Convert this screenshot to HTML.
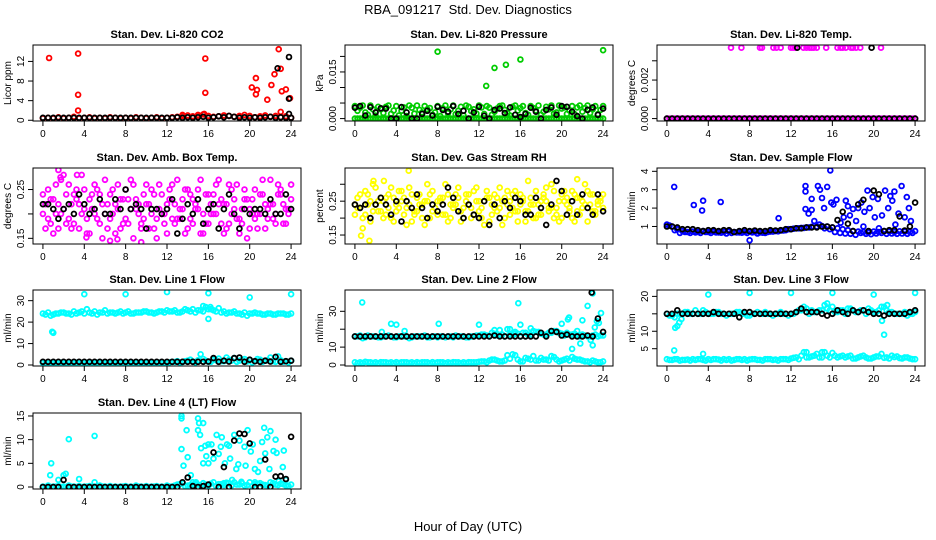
<!DOCTYPE html>
<html><head><meta charset="utf-8"><style>
html,body{margin:0;padding:0;background:#fff}
svg{display:block;font-family:"Liberation Sans",sans-serif}
</style></head><body>
<svg id="chart" width="936" height="540">
<text x="468" y="14" text-anchor="middle" font-size="13">RBA_091217&#160; Std. Dev. Diagnostics</text>
<text x="468" y="531" text-anchor="middle" font-size="13">Hour of Day (UTC)</text>
</svg>
<script>
// ---- data ----
const tA=[0,0.5,1,1.5,2,2.5,3,3.5,4,4.5,5,5.5,6,6.5,7,7.5,8,8.5,9,9.5,10,10.5,11,11.5,12,12.5,13,13.5,14,14.5,15,15.5,16,16.5,17,17.5,18,18.5,19,19.5,20,20.5,21,21.5,22,22.5,23,23.5,24];
const tB=[0.25,0.75,1.25,1.75,2.25,2.75,3.25,3.75,4.25,4.75,5.25,5.75,6.25,6.75,7.25,7.75,8.25,8.75,9.25,9.75,10.25,10.75,11.25,11.75,12.25,12.75,13.25,13.75,14.25,14.75,15.25,15.75,16.25,16.75,17.25,17.75,18.25,18.75,19.25,19.75,20.25,20.75,21.25,21.75,22.25,22.75,23.25,23.75];
const xTicks=[0,4,8,12,16,20,24];

// P1 CO2
const co2Red=[0.4,0.5,0.4,0.6,0.4,0.5,0.7,0.4,0.5,0.6,0.4,0.5,0.4,0.6,0.5,0.4,0.5,0.4,0.6,0.5,0.4,0.5,0.6,0.4,0.5,0.6,0.7,0.9,1.0,0.8,1.1,1.2,0.9,0.7,0.8,1.0,0.9,0.7,0.8,1.1,0.9,0.6,0.8,1.0,0.7,0.9,0.6,0.8,0.5];
const co2RedOutX=[0.6,3.4,3.4,3.4,15.7,15.7,15.6,20.2,20.6,20.6,20.7,21.7,22.1,22.4,22.8,23,23.1,23.5,23,23.9,13.5,15,19];
const co2RedOutY=[12.7,13.6,5.2,2,12.6,5.6,1.3,6.7,5.3,8.6,6.2,4.2,7.2,9.4,14.5,10.5,5.9,6.3,1.7,4.5,1.1,1.0,0.9];
const co2Black=[0.5,0.5,0.5,0.5,0.5,0.5,0.5,0.5,0.5,0.5,0.5,0.5,0.5,0.5,0.5,0.5,0.5,0.5,0.5,0.5,0.5,0.5,0.5,0.5,0.5,0.5,0.6,0.5,0.6,0.5,0.6,0.7,0.5,0.6,0.8,0.6,0.9,0.7,0.5,0.6,0.5,0.6,0.5,0.6,0.7,0.5,0.6,0.5,0.5];
const co2BlackOutX=[22.7,23.8,23.8,23.8];
const co2BlackOutY=[10.6,12.9,4.4,1.3];
const co2Ticks=[0,4,8,12];

// P2 Pressure
const presZeroA=tA.map(()=>0), presZeroB=tB.map(()=>0);
const presGA=[.004,.0035,.002,.0042,.001,.003,.0038,.0015,.004,.0025,.0008,.0035,.0042,.002,.003,.0012,.004,.0033,.0018,.0042,.0025,.001,.0038,.003,.0042,.0015,.0035,.0022,.004,.0028,.001,.0042,.0034,.0018,.004,.0026,.0012,.0038,.0042,.002,.0032,.0015,.004,.0036,.0022,.0042,.003,.0014,.004];
const presGB=[.0025,.0042,.0012,.003,.0038,.0018,.0042,.0026,.001,.0036,.0042,.0016,.0028,.004,.0034,.002,.0008,.0042,.003,.0014,.0038,.0042,.0024,.0016,.0036,.004,.0012,.0032,.0042,.0018,.0038,.0026,.004,.0012,.0034,.0042,.0022,.003,.0016,.0042,.0036,.0026,.0014,.0042,.0034,.0018,.004,.0028];
const presOutX=[8,12.7,13.5,14.6,16,24];
const presOutY=[0.0215,0.0105,0.0163,0.0173,0.019,0.022];
const presBlack=[.0035,.004,.001,.0037,.002,.0033,.0032,0,0,.0037,.002,0,0,.0015,.0025,.001,.0038,.0028,.0022,.004,.0015,.0025,0,.002,.0038,.0009,0,.0028,.0032,.0018,.0036,.0012,.0005,.0015,.0035,.0022,0,.0028,.0036,.0012,.004,.0038,.0022,.0008,0,.0028,.0036,.0012,.0032];
const presTicks=[0,0.005,0.010,0.015,0.020];
const presLabels=["0.000","","","0.015",""];

// P3 Temp
const tempOutX=[6.2,7.2,9,9.2,10.3,10.6,11,12,12.2,12.4,13.2,13.5,13.8,14,14.2,14.5,15.4,16.5,16.8,17,17.3,17.8,18,18.3,18.7,20.7];
const tempOutY=tempOutX.map(()=>0.00368);
const tempBlackOutX=[12.6,19.8];
const tempBlackOutY=[0.00368,0.00368];
const tempTicks=[0,0.001,0.002,0.003];
const tempLabels=["0.000","","0.002",""];

// P4 Amb box temp
const ambA1=[.24,.19,.23,.17,.21,.26,.18,.22,.25,.16,.2,.24,.27,.19,.22,.17,.25,.21,.23,.18,.26,.2,.15,.24,.22,.19,.27,.21,.17,.23,.25,.2,.18,.24,.22,.16,.26,.21,.19,.23,.17,.25,.2,.22,.27,.18,.24,.21,.26];
const ambA2=[.2,.25,.16,.22,.28,.19,.24,.17,.21,.23,.26,.18,.2,.24,.16,.23,.19,.27,.21,.17,.22,.25,.19,.2,.16,.26,.19,.23,.25,.18,.21,.16,.24,.2,.27,.22,.18,.23,.16,.25,.21,.19,.24,.17,.22,.2,.25,.18,.23];
const ambB1=[.22,.18,.26,.2,.24,.17,.23,.28,.19,.21,.25,.15,.22,.2,.26,.18,.23,.15,.2,.24,.22,.17,.26,.2,.23,.18,.21,.25,.19,.22,.16,.24,.2,.26,.18,.22,.25,.19,.21,.15,.23,.2,.27,.19,.22,.24,.18,.21];
const ambB2=[.17,.23,.2,.27,.18,.22,.25,.2,.16,.24,.19,.22,.17,.25,.21,.23,.18,.26,.22,.19,.17,.24,.21,.18,.25,.22,.19,.16,.24,.21,.27,.18,.22,.2,.23,.17,.2,.26,.18,.23,.2,.17,.24,.21,.19,.26,.22,.2];
const ambOutX=[1.5,1.7,3.3,6.5,7.2,9.5,4.2];
const ambOutY=[0.29,0.275,0.28,0.145,0.148,0.142,0.152];
const ambBlack=[.22,.22,.21,.19,.21,.22,.2,.24,.22,.2,.21,.23,.2,.2,.23,.21,.25,.21,.22,.21,.17,.21,.21,.2,.21,.23,.16,.19,.22,.2,.23,.18,.21,.22,.17,.21,.24,.2,.17,.21,.2,.21,.21,.2,.23,.2,.2,.24,.21];
const ambTicks=[0.15,0.20,0.25];
const ambLabels=["0.15","","0.25"];

// P5 RH
const rhA1=[.24,.27,.21,.25,.29,.22,.26,.2,.24,.28,.23,.19,.26,.24,.3,.22,.25,.21,.27,.23,.26,.2,.24,.28,.22,.25,.19,.27,.23,.26,.21,.28,.24,.22,.26,.2,.25,.29,.23,.21,.27,.24,.2,.26,.23,.28,.22,.25,.27];
const rhA2=[.21,.23,.28,.19,.24,.26,.21,.29,.22,.25,.18,.27,.22,.2,.25,.28,.21,.26,.19,.24,.29,.23,.27,.21,.25,.18,.26,.23,.29,.2,.25,.22,.27,.19,.24,.28,.21,.25,.3,.23,.2,.26,.28,.22,.25,.19,.27,.24,.23];
const rhB1=[.26,.2,.24,.3,.22,.25,.27,.19,.23,.26,.29,.21,.24,.18,.27,.23,.25,.3,.2,.24,.22,.27,.2,.25,.23,.28,.21,.26,.18,.24,.27,.22,.25,.31,.2,.24,.26,.22,.28,.19,.25,.23,.27,.21,.3,.24,.22,.26];
const rhB2=[.23,.17,.27,.22,.25,.2,.23,.26,.28,.21,.24,.22,.27,.25,.2,.23,.26,.21,.24,.27,.19,.25,.23,.29,.2,.26,.24,.22,.25,.28,.23,.19,.26,.22,.24,.21,.27,.23,.2,.25,.28,.22,.19,.26,.24,.27,.21,.25];
const rhOutX=[0.6,1.4,5.2,1.8,2.8,21.5];
const rhOutY=[0.148,0.133,0.34,0.31,0.31,0.315];
const rhBlack=[.24,.23,.24,.2,.24,.26,.24,.21,.25,.19,.25,.23,.27,.23,.2,.24,.22,.24,.29,.26,.22,.2,.24,.21,.2,.25,.18,.24,.2,.25,.23,.26,.25,.21,.21,.26,.23,.18,.24,.31,.28,.21,.25,.21,.27,.23,.21,.27,.22];
const rhTicks=[0.15,0.20,0.25,0.30];
const rhLabels=["0.15","","0.25",""];

// P6 Sample flow
const sfA=[1.1,1.0,.85,.75,.7,.72,.7,.75,.7,.72,.68,.7,.72,.7,.68,.7,.72,.7,.68,.65,.72,.75,.78,.8,.85,.9,.92,.95,.98,1.0,1.02,1.0,.95,.9,.85,.8,.75,.72,.7,.68,.72,.7,.75,.72,.7,.74,.72,.7,.75];
const sfB=[1.05,.8,.65,.7,.65,.68,.65,.7,.65,.68,.66,.62,.65,.68,.66,.65,.68,.62,.66,.7,.72,.74,.78,.85,.88,.9,.92,.95,1.3,1.1,.9,.85,.7,.65,.62,.6,.55,.65,.6,.58,.62,.65,.6,.62,.6,.62,.6,.65];
const sfOutX=[0.7,2.6,3.4,3.5,5.2,8,10.8,13.4,13.4,13.4,13.7,14,14,14.6,14.8,15,15.2,15.5,15.8,15.9,16.1,16.4,17.3,17.5,17.7,18.0,18.3,18.5,18.8,19.1,19.4,19.6,19.9,20.1,20.4,20.8,21.1,21.4,21.6,21.8,22.0,22.4,22.7,23,23.2,23.4,23.6,19,20.5,22.1,16.8,17.1];
const sfOutY=[3.15,2.17,1.87,2.4,2.33,0.25,1.45,3.2,2.9,1.95,1.7,2.5,1.9,3.2,3.0,2.55,2.0,3.15,4.05,2.3,2.2,2.45,2.4,2.1,1.6,1.95,1.3,2.0,2.3,1.8,2.95,2.0,2.6,1.5,2.5,1.6,2.95,2.0,2.65,2.4,2.9,1.7,3.2,1.5,2.6,2.0,1.3,1.0,0.9,1.1,1.2,1.5];
const sfBlack=[1.0,1.0,.95,.85,.85,.85,.8,.75,.8,.8,.75,.8,.8,.7,.75,.8,.75,.78,.75,.75,.8,.78,.8,.85,.85,.9,.9,.95,.95,.95,1.0,1.0,.95,1.35,1.8,1.15,.75,2.2,2.45,.75,2.95,2.75,.75,.8,.8,1.55,.78,1.0,2.3];
const sfTicks=[1,2,3,4];

// P7 Line 1
const l1TopA=[24,24.5,23.5,24,24.5,24,25,24.5,24,24.5,25,24.5,25.5,24.5,24,25,24.5,24,24.5,24.5,25,24.5,24.5,25,25.5,25,24.5,25,25.5,26,25.5,25,26,25.5,26.5,25,24.5,25,24,24.5,24,24.5,24,23.5,24,23.5,24,23.5,24];
const l1TopB=[23.5,23,24,24.5,24,23.5,24,25,26,24,23.5,24.5,24,24.5,24.5,24,25,24,24.5,25,24.5,24,25,24.5,25,25.5,24.5,26,25,24.5,25.5,27,26,25,24.5,24,24.5,24,23.5,23,24,24,23.5,24,23.5,24,24,23.5];
const l1OutX=[0.9,1,4,8,12,16,16,20,24,15.5,16.2];
const l1OutY=[15.5,15,33,33,34,33.5,21.5,31.5,33,27.5,27];
const l1LowA=[1,1.2,1,1.3,1.1,1.2,1,1.3,1.2,1,1.1,1.3,1,1.2,1.1,1,1.2,1.3,1,1.1,1.2,1,1.3,1.1,1.2,1.5,1.8,1.4,2,1.6,2.2,2.8,1.5,2.5,3,1.8,2.5,3.2,2,2.8,2.4,1.8,2.5,2,3.5,1.5,2.2,1.8,2];
const l1LowB=[0.8,1,0.9,1.1,0.8,1,1.1,0.9,1,0.8,1.1,1,0.9,1,0.8,1.1,1,0.9,1,0.8,1,0.9,1.1,1,1.2,1.4,1.1,1.8,2.5,1.2,5,2,1.5,2.2,1.8,3.5,2,1.5,2.5,1.6,1.2,2.8,1.5,2.2,1.8,4,1.5,1.2];
const l1Black=[1.5,1.5,1.5,1.5,1.5,1.5,1.5,1.5,1.5,1.5,1.5,1.5,1.5,1.5,1.5,1.5,1.5,1.5,1.5,1.5,1.5,1.5,1.5,1.5,1.5,1.5,1.5,1.5,1.5,1.5,1.5,1.5,1.6,3.2,1.5,2.0,1.6,3.2,3.5,1.5,2.5,1.8,1.5,2.0,1.6,3.8,1.5,1.8,2.0];
const l1Ticks=[0,10,20,30];

// P8 Line 2
const l2TopA=[16,16.5,15.5,16,16,15.5,16,16,15.5,16,16,15.5,16,16,15.5,16,15.5,16,16,15.5,16,16,15.5,16,16.5,17,16,17.5,16.5,16,17,17.5,16,18,17,18.5,17.5,17,18,19,17.5,18,17,16.5,17,16,16.5,16,16.5];
const l2TopB=[16,15,16.5,16,15.5,16,16.5,15.5,16,16,15,16,16,16.5,15.5,16,16,15.5,16,16.5,16,15.5,16,16.5,17,16.5,18,16.5,17,20,16.5,17.5,18,17,19,18.5,17,18,19,18,16.5,17,17.5,16,16.5,16,17,16.5];
const l2LowA=[1.5,1.5,1.8,1.5,1.5,1.6,1.5,1.5,1.6,1.5,1.5,1.5,1.6,1.5,1.5,1.6,1.5,1.5,1.5,1.6,1.5,1.5,1.6,1.5,1.8,2,2.5,3,2,2.5,3.5,5.5,2,4,3,2.5,4,3,5,3,2.5,3.5,4.5,3,2.5,2,2.5,1.5,2];
const l2LowB=[1,1.2,1.5,1.2,1,1.5,1.2,1,1.2,1.5,1.2,1,1.2,1.5,1,1.2,1.5,1,1.2,1.5,1,1.2,1.5,1.5,2,1.5,3,2.5,2,5.5,6,3,2,3.5,5,2.5,3,2.5,4.5,2,3,2.5,3.5,3,2,1.5,2,1.5];
const l2OutX=[0.7,2.6,3.5,4,4.8,8.1,12,13.5,14,15,15.5,15.8,16,17,19,20,20.7,20.6,21,21.5,22,22.5,23,23,23.2,23.4,23.6,23.8,22.8,21.8];
const l2OutY=[35,18.5,23,22.5,19,23,22.5,19.5,19.5,20,18.5,34.5,22.5,20.5,19,23,26.5,25.5,9,19,25,33,40,11,21,24.5,23.5,29,14,12];
const l2Black=[16,16,16,16,16,16,16,16,16,16,16,16,16,16,16,16,16,16,16,16,16,16,16,16,16,16,16,16.5,16,16,16,16,16,16,16,16,18,16,19,18.5,16.5,17,16,16,16,16.5,16,26,18.5];
const l2BlackOutX=[22.9];
const l2BlackOutY=[40.5];
const l2Ticks=[0,10,20,30];
const l2Labels=["0","10","","30"];

// P9 Line 3
const l3TopA=[15,14.5,15,15,15.5,15,15,16,15,15,15.5,15,15,15,15.5,15,14.5,15,15,15.5,15,15,15.5,15,15,15.5,16,16.5,16,15.5,16,16.5,17,15.5,16,16.5,16,15.5,16,16.5,15.5,16,17,15.5,15,15,15.5,15,15.5];
const l3TopB=[14.5,14,15,15.5,15,16,15,15.5,15,15.5,15,14.5,15,15.5,15,14.5,15,15.5,15,15,14.5,15,15,14.5,15,16,17,15,15.5,16,17.5,16,15.5,16,15,16.5,15.5,16,15,16,15.5,17,16,15.5,15,15,14.5,15];
const l3LowA=[2,1.8,2,1.8,1.9,2,2,1.8,2,2,1.9,2,2,1.8,2,2,1.9,2,1.8,2,2,1.9,2,2,2.2,2.5,3,2.5,2.8,3.5,2.5,3,3.8,2.5,3,2.8,2.2,2.5,3,2.2,2.5,2.8,2.4,2.2,2.6,2.3,2.5,2.2,2];
const l3LowB=[1.8,2,1.6,1.8,1.6,1.8,2,1.6,1.8,2,1.6,1.8,1.6,2,1.8,1.6,2,1.8,1.6,2,1.8,1.6,2,1.8,2.4,2,4,2.5,3,2.5,4,2.5,3,2.8,2.5,3,2.2,2.8,2.5,2.2,2.8,3.5,2.5,3,2.8,2.2,2.5,2];
const l3OutX=[0.7,0.8,1,1.2,1.4,3.5,4,8,12,16,20,24,21,20.8,21.3,15.5,13.5,15];
const l3OutY=[4.5,11,11.5,12.5,13.5,3.5,20.5,21,21,21,20.5,21,9,13,17.5,18,4,4];
const l3Black=[15,15,16,15,15,15,15,15,15,15.5,15,15,15,15,14,15.5,15.5,15,15,15,15,15,15,15,15,15.5,16.5,15.5,15.5,15.5,15,14.5,15,16,15.5,15,16,15.5,16,15.5,15,15,14.5,15,15,15,15,15.5,16];
const l3Ticks=[5,10,15,20];
const l3Labels=["5","10","","20"];

// P10 Line 4
const l4LowA=[0.1,0.3,0.1,0.2,0.1,0.3,0.1,0.2,0.1,0.2,0.1,0.3,0.1,0.2,0.1,0.1,0.2,0.1,0.3,0.1,0.2,0.1,0.2,0.1,0.3,0.1,0.5,0.8,0.3,1,0.5,0.8,0.3,1,0.6,0.4,0.8,1,0.5,0.3,1,0.6,0.8,0.4,1,0.5,0.7,0.3,0.5];
const l4LowB=[0,0,0.1,0,0,0.1,0,0,0.1,0,0,0.1,0,0,0,0.1,0,0,0.1,0,0,0.1,0,0,0.1,0.3,0.6,0.2,0.4,0.8,0.3,0.5,0.7,0.2,0.6,0.9,0.3,0.5,0.8,0.4,0.2,0.7,0.5,0.3,0.8,0.4,0.6,0.2];
const l4OutX=[0.7,0.8,1.5,2,2.2,2.5,3.5,5,5,13.4,13.4,13.4,13.6,13.9,14,14.3,15,15.1,15,15.2,15.5,15.3,15.5,15.7,15.8,16,16,16.3,16.5,16.8,17,17.2,17.3,17.6,17.8,18,18.1,18.3,18.5,18.7,18.9,19,19.2,19.5,19.6,19.8,20.1,20.3,20.5,20.8,21,21.2,21.4,21.5,21.7,21.9,22,22.3,22.5,22.6,23.2,23.3,23.5,22.8,20.5,17.5,14.5,14.8];
const l4OutY=[2.5,5,1.5,2.5,2.8,10.1,1.7,10.8,1,15,14.5,8,4.5,12,6.3,2.5,14.5,13.5,12,11,13.5,8.2,5,8.7,6.5,5,9,9,6,11,7,8.5,10.5,5,9,8.7,6,1.5,11,3.8,4.8,9.8,1.1,8.5,4.5,12,7.5,9,3.8,3.2,5.5,9.5,12.5,7.1,10.5,3.8,11.8,7.6,10,7.2,4.2,7.7,1.5,1.2,1,0.8,0.5,1];
const l4Black=[0,0,0,0,1.5,0,0,0,0,0,0,0,0,0,0,0,0,0,0,0,0,0,0,0,0,0,0,1.0,2.0,0.2,0,0.2,0.5,7.3,0,4.2,0,9.8,11.3,11.2,9.2,0,0,5.8,0,2.2,2.3,1.7,10.6];
const l4Ticks=[0,5,10,15];

// ---- layout ----
const NS='http://www.w3.org/2000/svg';
const svg=document.getElementById('chart');
const CYAN='#00ffff',RED='#ff0000',GREEN='#00cc00',MAG='#ff00ff',YEL='#ffff00',BLUE='#0000ff',BLK='#000000';
function el(tag,attrs,parent){const e=document.createElementNS(NS,tag);for(const k in attrs)e.setAttribute(k,attrs[k]);(parent||svg).appendChild(e);return e;}

const colL=[33,345,657], rowT=[45,168,290,413], W=268, H=76;
const panels=[
 {key:'co2',title:'Stan. Dev. Li-820 CO2',ylab:'Licor ppm',c:0,r:0,yd:[-0.15,15.35],ticks:co2Ticks,labels:null,
  series:[[tA,co2Red,RED],[co2RedOutX,co2RedOutY,RED],[tA,co2Black,BLK],[co2BlackOutX,co2BlackOutY,BLK]]},
 {key:'pressure',title:'Stan. Dev. Li-820 Pressure',ylab:'kPa',c:1,r:0,yd:[-0.00078,0.02367],ticks:presTicks,labels:presLabels,
  series:[[tA,presZeroA,GREEN],[tB,presZeroB,GREEN],[tA,presGA,GREEN],[tB,presGB,GREEN],[presOutX,presOutY,GREEN],[tA,presBlack,BLK]]},
 {key:'temp',title:'Stan. Dev. Li-820 Temp.',ylab:'degrees C',c:2,r:0,yd:[-0.000126,0.00382],ticks:tempTicks,labels:tempLabels,
  series:[[tA,presZeroA,MAG],[tB,presZeroB,MAG],[tempOutX,tempOutY,MAG],[tA,presZeroA,BLK],[tempBlackOutX,tempBlackOutY,BLK]]},
 {key:'ambtemp',title:'Stan. Dev. Amb. Box Temp.',ylab:'degrees C',c:0,r:1,yd:[0.1384,0.2941],ticks:ambTicks,labels:ambLabels,
  series:[[tA,ambA1,MAG],[tA,ambA2,MAG],[tB,ambB1,MAG],[tB,ambB2,MAG],[ambOutX,ambOutY,MAG],[tA,ambBlack,BLK]]},
 {key:'rh',title:'Stan. Dev. Gas Stream RH',ylab:'percent',c:1,r:1,yd:[0.1235,0.348],ticks:rhTicks,labels:rhLabels,
  series:[[tA,rhA1,YEL],[tA,rhA2,YEL],[tB,rhB1,YEL],[tB,rhB2,YEL],[rhOutX,rhOutY,YEL],[tA,rhBlack,BLK]]},
 {key:'sampleflow',title:'Stan. Dev. Sample Flow',ylab:'ml/min',c:2,r:1,yd:[0.047,4.18],ticks:sfTicks,labels:null,
  series:[[tA,sfA,BLUE],[tB,sfB,BLUE],[sfOutX,sfOutY,BLUE],[tA,sfBlack,BLK]]},
 {key:'line1',title:'Stan. Dev. Line 1 Flow',ylab:'ml/min',c:0,r:2,yd:[-0.46,34.97],ticks:l1Ticks,labels:null,
  series:[[tA,l1TopA,CYAN],[tB,l1TopB,CYAN],[l1OutX,l1OutY,CYAN],[tA,l1LowA,CYAN],[tB,l1LowB,CYAN],[tA,l1Black,BLK]]},
 {key:'line2',title:'Stan. Dev. Line 2 Flow',ylab:'ml/min',c:1,r:2,yd:[-0.55,41.9],ticks:l2Ticks,labels:l2Labels,
  series:[[tA,l2TopA,CYAN],[tB,l2TopB,CYAN],[tA,l2LowA,CYAN],[tB,l2LowB,CYAN],[l2OutX,l2OutY,CYAN],[tA,l2Black,BLK],[l2BlackOutX,l2BlackOutY,BLK]]},
 {key:'line3',title:'Stan. Dev. Line 3 Flow',ylab:'ml/min',c:2,r:2,yd:[0.04,21.83],ticks:l3Ticks,labels:l3Labels,
  series:[[tA,l3TopA,CYAN],[tB,l3TopB,CYAN],[tA,l3LowA,CYAN],[tB,l3LowB,CYAN],[l3OutX,l3OutY,CYAN],[tA,l3Black,BLK]]},
 {key:'line4',title:'Stan. Dev. Line 4 (LT) Flow',ylab:'ml/min',c:0,r:3,yd:[-0.42,15.63],ticks:l4Ticks,labels:null,
  series:[[tA,l4LowA,CYAN],[tB,l4LowB,CYAN],[l4OutX,l4OutY,CYAN],[tA,l4Black,BLK]]}
];

panels.forEach(p=>{
  const L=colL[p.c], T=rowT[p.r], B=T+H, R=L+W;
  const xs=v=>L+(v+0.96)/25.92*W;
  const ys=v=>B-(v-p.yd[0])/(p.yd[1]-p.yd[0])*H;
  const g=el('g',{});
  
  
  const t=el('text',{x:L+W/2,y:T-7,'text-anchor':'middle','font-size':'11','font-weight':'bold'},g);
  t.textContent=p.title;
  
  
  const clip=el('clipPath',{id:'clip-'+p.key},g);
  el('rect',{x:L,y:T,width:W,height:H},clip);
  const pts=el('g',{'clip-path':'url(#clip-'+p.key+')',fill:'none','stroke-width':'1.8'},g);
  
  
  p.series.forEach(s=>{
    const xsArr=s[0], ysArr=s[1];
    for(let i=0;i<ysArr.length;i++){
      const c=el('circle',{cx:xs(xsArr[i]).toFixed(1),cy:ys(ysArr[i]).toFixed(1),r:'2.4',stroke:s[2]},pts);
      
      
    }
  });
  const box=el('rect',{x:L,y:T,width:W,height:H,fill:'none',stroke:'#000','stroke-width':'1'},g);
  
  
  xTicks.forEach(v=>{
    const x=xs(v);
    el('line',{x1:x,x2:x,y1:B,y2:B+5,stroke:'#000'},g);
    const tl=el('text',{x:x,y:B+16,'text-anchor':'middle','font-size':'10'},g);
    tl.textContent=v;
    
    
  });
  el('line',{x1:xs(0),x2:xs(24),y1:B,y2:B,stroke:'#000'},g);
  const yt=p.ticks;
  el('line',{x1:L,x2:L,y1:ys(yt[0]),y2:ys(yt[yt.length-1]),stroke:'#000'},g);
  yt.forEach((v,i)=>{
    const y=ys(v);
    el('line',{x1:L-5,x2:L,y1:y,y2:y,stroke:'#000'},g);
    const lab=p.labels?p.labels[i]:String(v);
    if(lab){
      const tl=el('text',{x:L-9,y:y,'text-anchor':'middle','font-size':'10',transform:'rotate(-90 '+(L-9)+' '+y+')'},g);
      tl.textContent=lab;
      
      
    }
  });
  const yl=el('text',{x:L-22,y:T+H/2,'text-anchor':'middle','font-size':'10',transform:'rotate(-90 '+(L-22)+' '+(T+H/2)+')'},g);
  yl.textContent=p.ylab;
  
  
});
</script>
</body></html>
